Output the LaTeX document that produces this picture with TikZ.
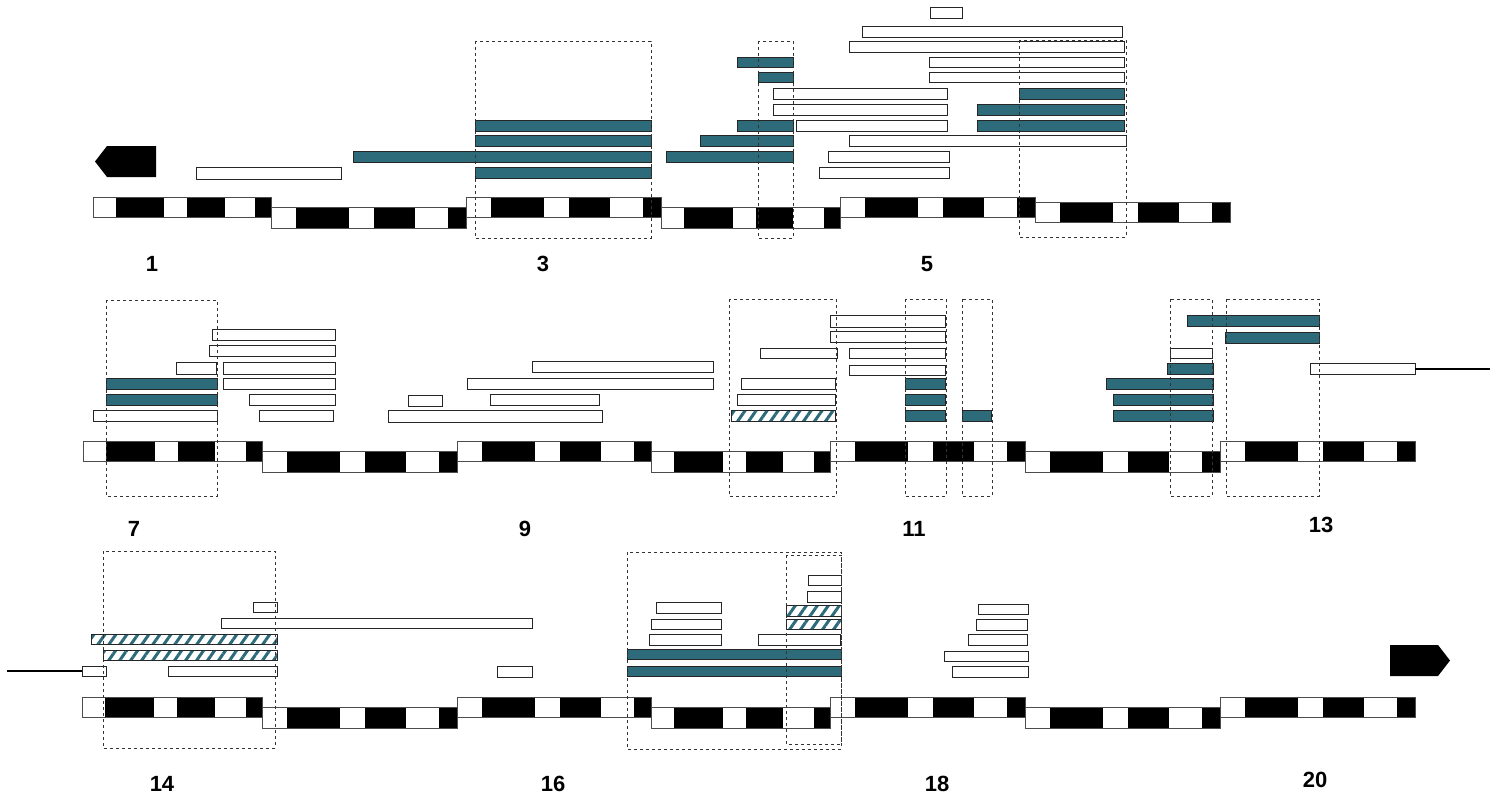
\documentclass[tikz,border=0pt]{standalone}
\usepackage{fontspec}
\setmainfont{Liberation Sans}
\usetikzlibrary{patterns.meta}
\definecolor{tl}{HTML}{2E6B7A}
\tikzset{
  wb/.style={draw=black!85,line width=0.9pt,fill=white},
  tb/.style={draw=black!85,line width=0.9pt,fill=tl},
  hb/.style={draw=black!85,line width=0.9pt,fill=white,pattern={Lines[angle=55,distance=9pt,line width=3pt]},pattern color=tl},
  dbox/.style={draw=black!80,dashed,line width=0.8pt},
  lab/.style={font=\fontsize{22}{22}\selectfont\bfseries,anchor=center},
  segw/.style={draw=black!70,line width=0.8pt,fill=white},
}
\newcommand\Wb[4]{\draw[wb] (#1,#3) rectangle (#2,#4);}
\newcommand\Tb[4]{\draw[tb] (#1,#3) rectangle (#2,#4);}
\newcommand\Hb[4]{\draw[hb] (#1,#3) rectangle (#2,#4);}
\newcommand\Db[4]{\draw[dbox] (#1,#3) rectangle (#2,#4);}
\newcommand\Seg[4]{%
  \pgfmathsetmacro\sw{#2-#1}%
  \draw[segw] (#1,#3) rectangle (#2,#4);
  \fill[black] ({#1+0.13*\sw},#3) rectangle ({#1+0.40*\sw},#4);
  \fill[black] ({#1+0.53*\sw},#3) rectangle ({#1+0.74*\sw},#4);
  \fill[black] ({#1+0.91*\sw},#3) rectangle (#2,#4);
  \draw[black!70,line width=0.8pt] (#1,#3) rectangle (#2,#4);
}
\begin{document}
\begin{tikzpicture}[x=1pt,y=-1pt]
\useasboundingbox (0,0) rectangle (1497,800);
% ===== Row 1 =====
\Seg{93}{271}{197}{217}
\Seg{271}{466}{207}{228}
\Seg{466}{661}{197}{217}
\Seg{661}{840}{207}{228}
\Seg{840}{1035}{197}{217}
\Seg{1035}{1230}{202}{222}
\fill[black] (156,146) -- (107,146) -- (95,161.5) -- (107,177) -- (156,177) -- cycle;
\Wb{196}{341}{167}{179}
\Tb{353}{651}{151}{162}
\Tb{475}{651}{120}{131}
\Tb{475}{651}{135}{146}
\Tb{475}{651}{167}{178}
\Wb{930}{962}{7}{18}
\Wb{862}{1122}{26}{37}
\Wb{849}{1124}{41}{52}
\Tb{737}{793}{57}{67} \Wb{929}{1124}{57}{67}
\Tb{758}{793}{72}{82} \Wb{929}{1124}{72}{82}
\Wb{773}{947}{88}{99} \Tb{1019}{1124}{88}{99}
\Wb{773}{947}{104}{115} \Tb{977}{1124}{104}{115}
\Tb{737}{793}{120}{131} \Wb{796}{947}{120}{131} \Tb{977}{1124}{120}{131}
\Tb{700}{793}{135}{146} \Wb{849}{1126}{135}{146}
\Tb{666}{793}{151}{162} \Wb{828}{949}{151}{162}
\Wb{819}{949}{167}{178}
\Db{475}{651}{41}{238}
\Db{758}{793}{41}{238}
\Db{1019}{1126}{40}{237}
\node[lab] (l1) at (152,264) {1};
\node[lab] (l3) at (543,264) {3};
\node[lab] (l5) at (927,264) {5};
% ===== Row 2 =====
\Seg{83}{262}{441}{461}
\Seg{262}{457}{451}{472}
\Seg{457}{651}{441}{461}
\Seg{651}{830}{451}{472}
\Seg{830}{1025}{441}{461}
\Seg{1025}{1220}{451}{472}
\Seg{1220}{1415}{441}{461}
\Wb{212}{335}{329}{340}
\Wb{209}{335}{345}{356}
\Wb{176}{216}{362}{374} \Wb{223}{335}{362}{374} \Wb{532}{713}{361}{372}
\Tb{106}{217}{378}{389} \Wb{223}{335}{378}{389} \Wb{467}{713}{378}{389}
\Tb{106}{217}{394}{405} \Wb{249}{335}{394}{405} \Wb{408}{442}{395}{406} \Wb{490}{599}{394}{405}
\Wb{93}{217}{410}{421} \Wb{259}{333}{410}{421} \Wb{388}{602}{410}{422}
\Wb{830}{945}{315}{327}
\Wb{830}{945}{331}{342}
\Wb{760}{837}{348}{358} \Wb{849}{945}{348}{358}
\Wb{849}{945}{365}{375}
\Wb{741}{835}{378}{389} \Tb{905}{945}{378}{389} \Tb{1106}{1213}{378}{389}
\Wb{737}{835}{394}{405} \Tb{905}{945}{394}{405} \Tb{1113}{1213}{394}{405}
\Hb{731}{835}{410}{421} \Tb{905}{945}{410}{421} \Tb{962}{991}{410}{421} \Tb{1113}{1213}{410}{421}
\Tb{1187}{1319}{315}{326}
\Tb{1225}{1319}{332}{343}
\Wb{1170}{1212}{348}{358}
\Tb{1167}{1213}{363}{374}
\Wb{1310}{1415}{363}{374}
\coordinate (e2) at (1490,368.5);
\draw[line width=2pt] (1415,368.5) -- (e2);
\Db{106}{217}{300}{496}
\Db{729}{836}{299}{496}
\Db{905}{946}{299}{496}
\Db{962}{992}{299}{496}
\Db{1170}{1212}{299}{496}
\Db{1226}{1319}{299}{496}
\node[lab] (l7) at (134,529) {7};
\node[lab] (l9) at (525,529) {9};
\node[lab] (l11) at (914,529) {11};
\node[lab] (l13) at (1321,525) {13};
% ===== Row 3 =====
\Seg{82}{262}{697}{717}
\Seg{262}{457}{707}{728}
\Seg{457}{651}{697}{717}
\Seg{651}{830}{707}{728}
\Seg{830}{1025}{697}{717}
\Seg{1025}{1220}{707}{728}
\Seg{1220}{1415}{697}{717}
\Wb{253}{277}{602}{612}
\Wb{221}{532}{618}{628}
\Hb{91}{277}{634}{644}
\Hb{103}{277}{650}{660}
\Wb{82}{106}{666}{676}
\coordinate (e3) at (7,671);
\draw[line width=2pt] (82,671) -- (e3);
\Wb{168}{277}{666}{676}
\Wb{497}{532}{666}{677}
\Wb{808}{841}{575}{585}
\Wb{807}{841}{591}{602}
\Wb{656}{721}{602}{613} \Hb{786}{841}{605}{616}
\Wb{651}{721}{619}{629} \Hb{786}{841}{619}{629}
\Wb{649}{721}{634}{645} \Wb{758}{840}{634}{645}
\Tb{627}{841}{649}{659}
\Tb{627}{841}{666}{676}
\Wb{978}{1028}{604}{614}
\Wb{976}{1027}{619}{630}
\Wb{968}{1027}{634}{645}
\Wb{944}{1028}{651}{661}
\Wb{952}{1028}{666}{677}
\fill[black] (1390,645) -- (1438,645) -- (1450,660.5) -- (1438,676) -- (1390,676) -- cycle;
\Db{103}{275}{551}{748}
\Db{627}{841}{552}{749}
\Db{786}{841}{555}{744}
\node[lab] (l14) at (162,784) {14};
\node[lab] (l16) at (553,784) {16};
\node[lab] (l18) at (937,784) {18};
\node[lab] (l20) at (1315,780) {20};
\end{tikzpicture}
\end{document}
